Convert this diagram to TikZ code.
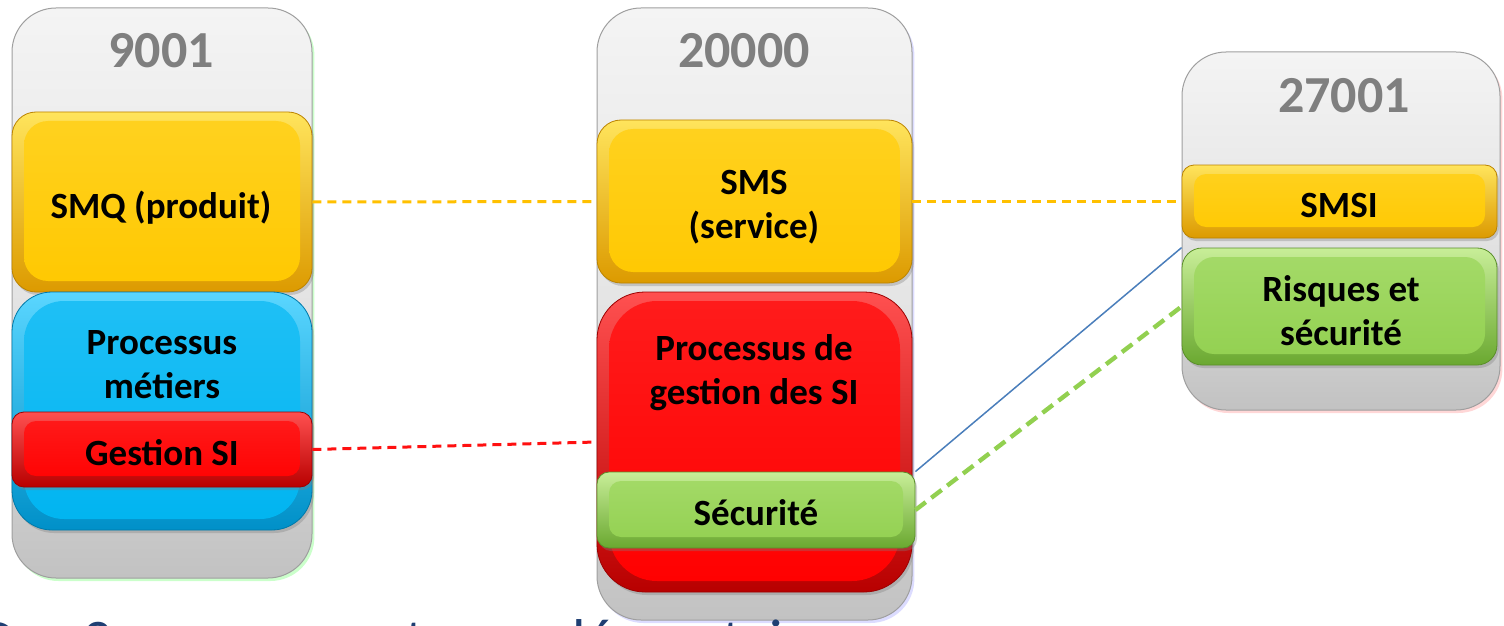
\documentclass[tikz,border=0pt]{standalone}
\usepackage{fontspec}
\setmainfont{Carlito}
\usetikzlibrary{fit,shadows,calc}

% colour sets: light rim / face / dark rim
\definecolor{yelL}{HTML}{FFE45C}
\definecolor{yelM}{HTML}{FFC800}
\definecolor{yelD}{HTML}{DC9A00}
\definecolor{bluL}{HTML}{5AD6FF}
\definecolor{bluM}{HTML}{00B4F0}
\definecolor{bluD}{HTML}{0090C8}
\definecolor{redL}{HTML}{FF5050}
\definecolor{redM}{HTML}{FF0000}
\definecolor{redD}{HTML}{B80000}
\definecolor{grnL}{HTML}{C8EE98}
\definecolor{grnM}{HTML}{92D050}
\definecolor{grnD}{HTML}{6AA830}
\definecolor{colL}{HTML}{F4F4F4}
\definecolor{colM}{HTML}{E4E4E4}
\definecolor{colD}{HTML}{C2C2C2}
\definecolor{titleGray}{HTML}{7F7F7F}
\definecolor{noteBlue}{HTML}{1F3F73}
\definecolor{linkYel}{HTML}{FFC000}
\definecolor{linkRed}{HTML}{FF1010}
\definecolor{linkGrn}{HTML}{92D050}
\definecolor{linkBlu}{HTML}{4A7EBB}

\tikzset{
  column/.style={inner sep=0pt, rounded corners=22pt, draw=gray!75, line width=0.5pt,
    top color=colL, bottom color=colD, middle color=colM,
    drop shadow={opacity=0.45, shadow xshift=1.2pt, shadow yshift=-1.5pt, fill=#1}},
  column/.default=gray,
  layer/.style args={#1/#2/#3/#4}{inner sep=0pt, rounded corners=#4,
    draw=#3!85!black, line width=0.4pt, top color=#1, bottom color=#3,
    path picture={\shade[top color=#1!35!#2, bottom color=#2, rounded corners=#4]
      ($(path picture bounding box.north west)+(12,9)$) rectangle
      ($(path picture bounding box.south east)+(-12,-11)$);},
    drop shadow={opacity=0.35, shadow xshift=1pt, shadow yshift=-1.5pt}},
  yellowbox/.style={layer=yelL/yelM/yelD/#1},
  bluebox/.style={layer=bluL/bluM/bluD/#1},
  redbox/.style={layer=redL/redM/redD/#1},
  greenbox/.style={layer=grnL/grnM/grnD/#1},
  title/.style={font=\bfseries\fontsize{26}{30}\selectfont, text=titleGray, inner sep=0pt},
  lbl/.style={font=\bfseries\fontsize{18.5}{22}\selectfont, align=center, text=black, inner sep=0pt},
  link/.style={line width=1.5pt, dash pattern=on 4.5pt off 3pt},
}

\begin{document}
\begin{tikzpicture}[x=0.5pt, y=-0.5pt]
  \useasboundingbox (0,0) rectangle (1504,626);
  \clip (0,0) rectangle (1504,626);

  % ISO 9001 column
  \node[column=green!45, fit={(12,8) (312,578)}] (c9001) {};
  \node[title] (t9001) at (161,51) {9001};
  \node[yellowbox=12pt, fit={(12,112) (312,292)}] (smq) {};
  \node[lbl] (smqtxt) at (161,208) {SMQ (produit)};
  \node[bluebox=20pt, fit={(12,292) (312,530)}] (metiers) {};
  \node[lbl] (metierstxt) at (162,365) {Processus\\métiers};
  \node[redbox=6pt, fit={(12,412) (312,487)}] (gestion) {};
  \node[lbl] (gestiontxt) at (162,453) {Gestion SI};

  % ISO 20000 column
  \node[column=blue!30, fit={(597,8) (912,620)}] (c20000) {};
  \node[title] (t20000) at (744,51) {20000};
  \node[yellowbox=12pt, fit={(597,120) (912,283)}] (sms) {};
  \node[lbl] (smstxt) at (754,207) {SMS\\(service)};
  \node[redbox=24pt, fit={(597,292) (912,592)}] (procsi) {};
  \node[lbl] (procsitxt) at (754,373) {Processus de\\gestion des SI};
  \node[greenbox=6pt, fit={(597,472) (915,548)}] (secu) {};
  \node[lbl] (secutxt) at (756,513) {Sécurité};

  % ISO 27001 column
  \node[column=red!35, fit={(1182,52) (1500,410)}] (c27001) {};
  \node[title] (t27001) at (1344,96) {27001};
  \node[yellowbox=6pt, fit={(1182,165) (1497,238)}] (smsi) {};
  \node[lbl] (smsitxt) at (1339,205) {SMSI};
  \node[greenbox=10pt, fit={(1182,248) (1497,365)}] (risques) {};
  \node[lbl] (risquestxt) at (1341,311) {Risques et\\sécurité};

  % correspondences between the standards
  \draw[link, linkYel] (smq.east) -- (sms.west);
  \draw[link, linkYel] (sms.east) -- (smsi.west);
  \draw[link, linkRed] (gestion.east) -- (procsi.west);
  \draw[linkBlu, line width=0.75pt] (secu.north east) -- (risques.north west);
  \draw[linkGrn, line width=2.2pt, dash pattern=on 6.5pt off 3.5pt] (secu.east) -- (risques.west);

  % caption line running below the picture
  \node[anchor=north west, inner sep=0pt, text=noteBlue, font=\fontsize{29.5}{35}\selectfont]
    (note) at (-20,619) {Des 3 normes sont complémentaires};
\end{tikzpicture}
\end{document}
